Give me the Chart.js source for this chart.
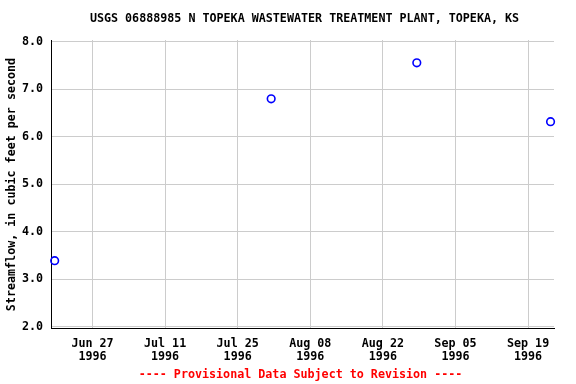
<!DOCTYPE html>
<html>
<head>
<meta charset="utf-8">
<script src="https://cdn.jsdelivr.net/npm/chart.js@4.4.1/dist/chart.umd.min.js"></script>
<style>
  html, body { margin: 0; padding: 0; background: #fff; }
  #wrap { width: 576px; height: 384px; }
</style>
</head>
<body>
<div id="wrap"><canvas id="grafik" width="576" height="384"></canvas></div>
<script>
// ======= Data =======
const sampleDates = ['1996-06-19T17:00', '1996-07-31T11:00', '1996-08-28T13:00', '1996-09-23T08:00'];
const flowValues = [3.39, 6.80, 7.56, 6.32];
const tickDates = ['1996-06-27', '1996-07-11', '1996-07-25', '1996-08-08', '1996-08-22', '1996-09-05', '1996-09-19'];
const tickLabels = [['Jun 27', '1996'], ['Jul 11', '1996'], ['Jul 25', '1996'], ['Aug 08', '1996'], ['Aug 22', '1996'], ['Sep 05', '1996'], ['Sep 19', '1996']];
const yTicks = [2, 3, 4, 5, 6, 7, 8];

// ======= Helper: tanggal ke hari =======
function toDay(s) {
    const p = s.split(/[-T:]/).map(Number);
    return Date.UTC(p[0], p[1] - 1, p[2], p[3] || 0, p[4] || 0) / 86400000;
}

const xTickVals = tickDates.map(toDay);
const points = sampleDates.map((d, i) => ({ x: toDay(d), y: flowValues[i] }));

const fontMono = 'DejaVu Sans Mono';

// judul & footer di tengah area plot, bukan di tengah kanvas
const centerTitles = {
    id: 'centerTitles',
    afterLayout(chart) {
        const a = chart.chartArea;
        chart.boxes.forEach(b => {
            if (!b.options || typeof b.options.text !== 'string') return;
            const shift = b.options.position === 'bottom' ? -2 : 2;
            b.left = a.left + shift;
            b.right = a.right + shift;
        });
    }
};

const ctx = document.getElementById('grafik').getContext('2d');
new Chart(ctx, {
    type: 'scatter',
    data: {
        datasets: [{
            data: points,
            borderColor: '#0000ff',
            backgroundColor: 'rgba(0,0,0,0)',
            pointRadius: 3.8,
            pointBorderWidth: 1.6,
            showLine: false,
            clip: false
        }]
    },
    plugins: [centerTitles],
    options: {
        responsive: false,
        animation: false,
        layout: { padding: { left: 0, right: 22, top: 0, bottom: 0 } },
        plugins: {
            legend: { display: false },
            tooltip: { enabled: false },
            title: {
                display: true,
                text: 'USGS 06888985 N TOPEKA WASTEWATER TREATMENT PLANT, TOPEKA, KS',
                color: '#000',
                font: { family: fontMono, size: 11.7, weight: 'bold' },
                padding: { top: 12, bottom: 14 }
            },
            subtitle: {
                display: true,
                position: 'bottom',
                text: '---- Provisional Data Subject to Revision ----',
                color: '#ff0000',
                font: { family: fontMono, size: 11.7, weight: 'bold' },
                padding: { top: 5, bottom: 2 }
            }
        },
        scales: {
            x: {
                type: 'linear',
                min: toDay('1996-06-19'),
                max: toDay('1996-09-24'),
                afterBuildTicks: s => { s.ticks = xTickVals.map(v => ({ value: v })); },
                afterFit: s => { s.height = 34; },
                ticks: {
                    color: '#000',
                    padding: 9,
                    maxRotation: 0,
                    autoSkip: false,
                    font: { family: fontMono, size: 11.7, weight: 'bold', lineHeight: 1.1 },
                    callback: v => tickLabels[xTickVals.indexOf(v)]
                },
                grid: { color: '#cccccc', drawTicks: false },
                border: { color: '#000', width: 1 }
            },
            y: {
                min: 1.95,
                max: 8.04,
                afterBuildTicks: s => { s.ticks = yTicks.map(v => ({ value: v })); },
                afterFit: s => { s.width = 51; },
                title: {
                    display: true,
                    text: 'Streamflow, in cubic feet per second',
                    color: '#000',
                    font: { family: fontMono, size: 11.7, weight: 'bold' },
                    padding: { top: 5, bottom: 0 }
                },
                ticks: {
                    color: '#000',
                    padding: 8,
                    font: { family: fontMono, size: 11.7, weight: 'bold' },
                    callback: v => v.toFixed(1)
                },
                grid: { color: '#cccccc', drawTicks: false },
                border: { color: '#000', width: 1 }
            }
        }
    }
});
</script>
</body>
</html>
